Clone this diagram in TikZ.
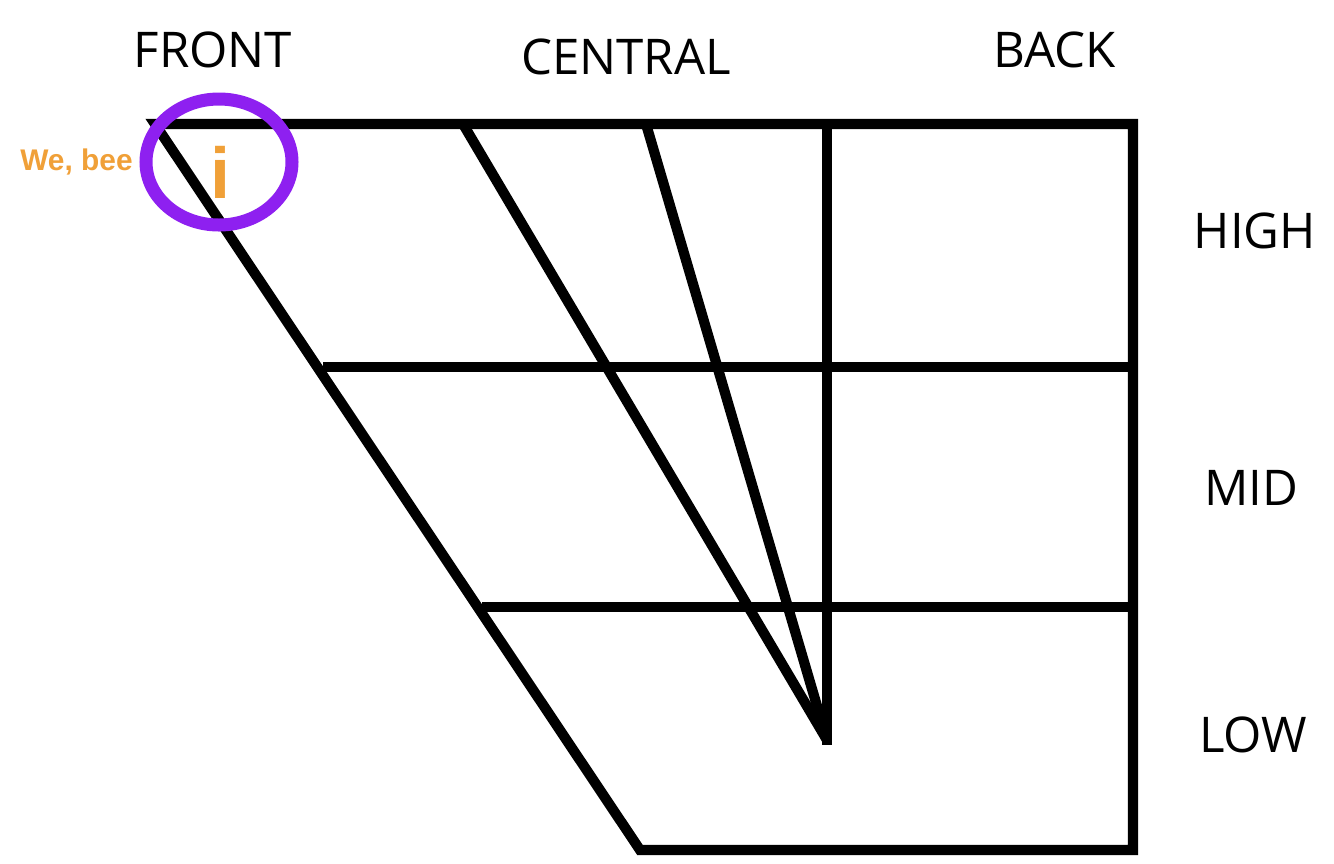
\documentclass[tikz,border=0pt]{standalone}
\usepackage{fontspec}
\setmainfont{Open Sans}
\newfontfamily\labelfont{Liberation Sans}
\usetikzlibrary{positioning}
\definecolor{chartPurple}{RGB}{142,32,240}
\definecolor{chartOrange}{RGB}{240,160,56}

\begin{document}
\begin{tikzpicture}[
  x=0.02cm, y=-0.02cm,
  grid/.style={draw=black, line width=5.8pt, line cap=rect, line join=miter},
  axis/.style={font=\fontsize{28}{33}\selectfont, text=black, inner sep=0pt},
  vowel/.style={font=\labelfont\bfseries\fontsize{41}{45}\selectfont, text=chartOrange, inner sep=0pt},
  example/.style={font=\labelfont\bfseries\fontsize{17}{20}\selectfont, text=chartOrange, inner sep=0pt}
]
\useasboundingbox (0,0) rectangle (1334,863);

% corners and ends of the chart
\coordinate (fronthigh) at (155,124);
\coordinate (backhigh) at (1133,124);
\coordinate (backlow) at (1133,850);
\coordinate (frontlow) at (640,850);
\coordinate (midleft) at (323,367);
\coordinate (midright) at (1133,367);
\coordinate (lowleft) at (482,607);
\coordinate (lowright) at (1133,607);
\coordinate (centtop) at (463,124);
\coordinate (centtopb) at (646,124);
\coordinate (backtop) at (827,124);
\coordinate (apex) at (827,740);

\draw[grid] (fronthigh) -- (backhigh) -- (backlow) -- (frontlow) -- cycle;
\draw[grid, line cap=butt] (midleft) -- (midright);
\draw[grid, line cap=butt] (lowleft) -- (lowright);
\draw[grid] (backtop) -- (apex);
\draw[grid, line cap=butt] (centtop) -- (apex);
\draw[grid, line cap=butt] (centtopb) -- (apex);

\node[axis] (front) at (213,50) {FRONT};
\node[axis] (central) at (626,57) {CENTRAL};
\node[axis] (back) at (1055,50) {BACK};
\node[axis] (high) at (1255,231) {HIGH};
\node[axis] (mid) at (1251,488) {MID};
\node[axis] (low) at (1253,735) {LOW};

\node[vowel] (vowelI) at (221,172) {i};
\draw[chartPurple, line width=7.4pt] (219,162) ellipse [x radius=73, y radius=63];
\node[example, anchor=east] (wordsI) at (133,162) {We, bee};
\end{tikzpicture}
\end{document}
